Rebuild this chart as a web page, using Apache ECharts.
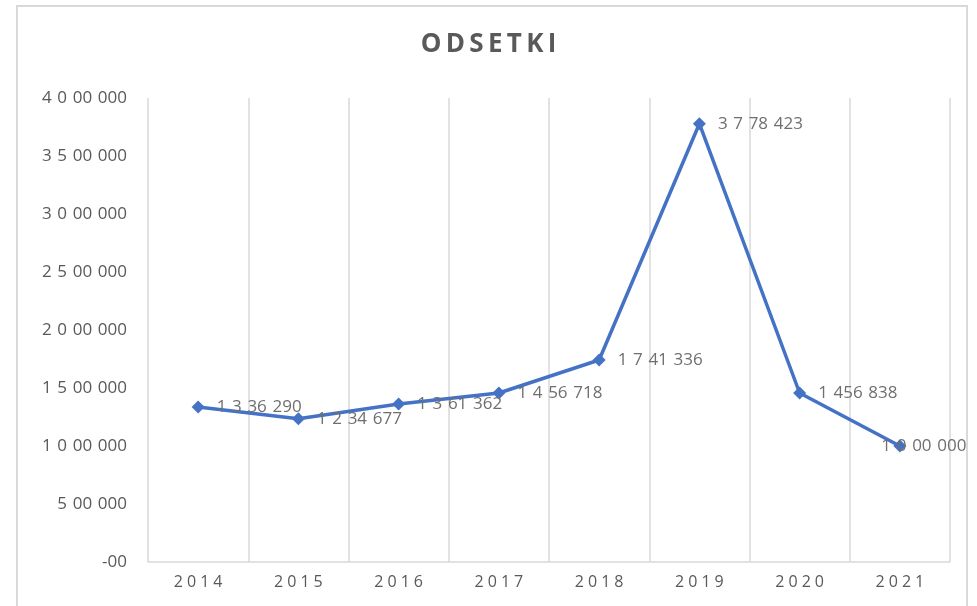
<!DOCTYPE html>
<html>
<head>
<meta charset="utf-8">
<script src="https://cdn.jsdelivr.net/npm/echarts@6/dist/echarts.min.js"></script>
<style>
html,body{margin:0;padding:0;background:#fff;}
#chart{width:977px;height:606px;}
</style>
</head>
<body>
<div id="chart"></div>
<script>
const categories = ['2014','2015','2016','2017','2018','2019','2020','2021'];
const values = [1336290, 1234677, 1361362, 1456718, 1741336, 3778423, 1456838, 1000000];
const valueLabels = ['1 3 36 290','1 2 34 677','1 3 61 362','1 4 56 718','1 7 41 336','3 7 78 423','1 456 838','1 0 00 000'];
const yTickValues = [0, 500000, 1000000, 1500000, 2000000, 2500000, 3000000, 3500000, 4000000];
const yTickLabels = ['-00','5 00 000','1 0 00 000','1 5 00 000','2 0 00 000','2 5 00 000','3 0 00 000','3 5 00 000','4 0 00 000'];

const gray = '#595959';
const labelGray = '#6f6f6f';
const gridColor = '#d9d9d9';
const wide = s => s.replace(/ /g, '\u2004');

const chart = echarts.init(document.getElementById('chart'));
const seriesData = values.map((v, i) => {
  const item = { value: v };
  if (i === values.length - 1) {
    item.label = { position: 'inside', offset: [24, 0] };
  }
  return item;
});

chart.setOption({
  animation: false,
  title: {
    text: 'O\u2009D\u2009S\u2009E\u2009T\u2009K\u2009I',
    left: 'center',
    top: 27,
    textStyle: { color: gray, fontSize: 26, fontWeight: 'bold', fontFamily: 'Open Sans' }
  },
  graphic: [{
    type: 'rect',
    shape: { x: 17, y: 6, width: 950, height: 640 },
    style: { fill: 'none', stroke: gridColor, lineWidth: 2 },
    silent: true,
    z: -1
  }],
  grid: { left: 148, right: 27, top: 98, bottom: 44 },
  xAxis: {
    type: 'category',
    data: categories,
    boundaryGap: true,
    axisLine: { show: true, lineStyle: { color: gridColor, width: 1.5 } },
    axisTick: { show: false },
    splitLine: { show: true, lineStyle: { color: gridColor, width: 1.5 } },
    axisLabel: {
      color: gray, fontSize: 16, fontFamily: 'Open Sans', margin: 12,
      formatter: v => v.split('').join('\u2005')
    }
  },
  yAxis: {
    type: 'value',
    min: 0,
    max: 4000000,
    interval: 500000,
    axisLine: { show: false },
    axisTick: { show: false },
    splitLine: { show: false },
    axisLabel: {
      color: gray, fontSize: 17, fontFamily: 'Open Sans', margin: 21,
      formatter: v => { const i = yTickValues.indexOf(v); return i >= 0 ? wide(yTickLabels[i]) : ''; }
    }
  },
  series: [{
    type: 'line',
    data: seriesData,
    symbol: 'diamond',
    symbolSize: 13,
    lineStyle: { color: '#4472C4', width: 3.5 },
    itemStyle: { color: '#4472C4' },
    label: {
      show: true,
      position: 'right',
      distance: 12,
      color: labelGray,
      fontSize: 17,
      fontFamily: 'Open Sans',
      formatter: p => wide(valueLabels[p.dataIndex])
    }
  }]
});
</script>
</body>
</html>
